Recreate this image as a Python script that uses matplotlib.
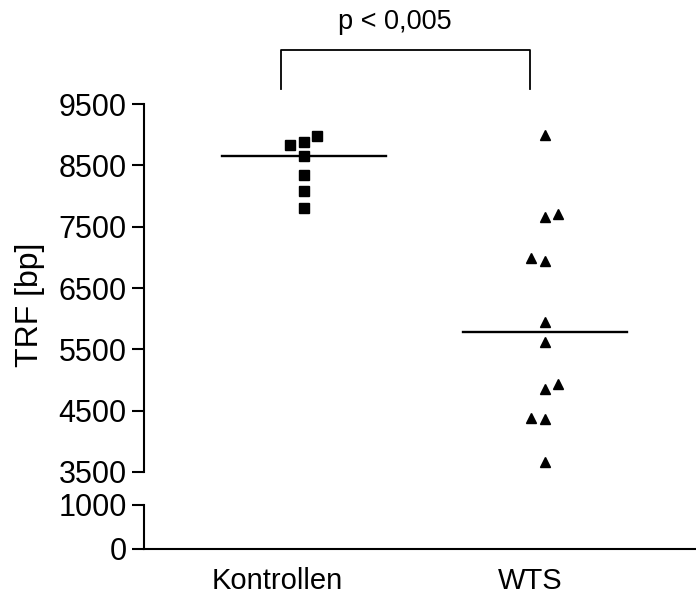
import numpy as np
import matplotlib
matplotlib.use("Agg")
import matplotlib.pyplot as plt

plt.rcParams['font.family'] = ['Liberation Sans', 'DejaVu Sans']

# Werte (TRF in bp)
groups = ['Kontrollen', 'WTS']
kontrollen = [8834, 8888, 8986, 8660, 8345, 8089, 7812]
kontrollen_col = [-1, 0, 1, 0, 0, 0, 0]
wts = [8997, 7655, 7704, 6986, 6942, 5942, 5626, 4854, 4936, 4376, 4360, 3668]
wts_col = [0, 0, 1, -1, 0, 0, 0, 0, 1, -1, 0, 0]
p_text = 'p < 0,005'

upper_ticks = [3500, 4500, 5500, 6500, 7500, 8500, 9500]
lower_ticks = [0, 1000]

W, H = 696, 596
fig = plt.figure(figsize=(W / 100, H / 100), dpi=100)

def rect(x0, y_top, x1, y_bot):
    return [x0 / W, 1 - y_bot / H, (x1 - x0) / W, (y_bot - y_top) / H]

ax_top = fig.add_axes(rect(144, 104, 696, 472))
ax_bot = fig.add_axes(rect(144, 505, 696, 549))

xlim = (0.336, 2.627)
step = 0.056
half = 0.34
lw = 1.5

for ax in (ax_top, ax_bot):
    ax.set_xlim(*xlim)
    ax.spines['top'].set_visible(False)
    ax.spines['right'].set_visible(False)
    ax.spines['left'].set_linewidth(lw)
    ax.spines['bottom'].set_linewidth(lw)
    ax.tick_params(axis='y', direction='out', length=8.5, width=lw, pad=4, labelsize=22)
    ax.tick_params(axis='y', which='minor', direction='in', length=6.5, width=lw)
    ax.patch.set_alpha(0)

ax_top.set_ylim(3500, 9500)
ax_top.set_yticks(upper_ticks)
ax_top.set_yticks([3500], minor=True)
ax_top.spines['bottom'].set_visible(False)
ax_top.set_xticks([])

ax_bot.set_ylim(0, 1000)
ax_bot.set_yticks(lower_ticks)
ax_bot.set_yticks([1000], minor=True)
ax_bot.set_xticks([0.888, 1.938])
ax_bot.set_xticklabels(groups, fontsize=21)
ax_bot.tick_params(axis='x', length=0, pad=13)

for pos, vals, cols, m in [(1, kontrollen, kontrollen_col, 's'), (2, wts, wts_col, '^')]:
    xs = pos + step * np.array(cols)
    ax_top.plot(xs, vals, ls='none', marker=m, ms=7.3, color='black', mec='black')
    med = np.median(vals)
    ax_top.plot([pos - half, pos + half], [med, med], color='black', lw=1.7)

# Signifikanz-Klammer
bx0, bx1 = 0.905, 1.94
ax_top.plot([bx0, bx0, bx1, bx1], [9743, 10373, 10373, 9743], color='black', lw=1.3, clip_on=False)
ax_top.text(1.378, 10840, p_text, ha='center', va='center', fontsize=19.5)

fig.text(30 / W, 1 - 305 / H, 'TRF [bp]', rotation=90, ha='center', va='center', fontsize=23)

fig.savefig('out.png', dpi=100)
